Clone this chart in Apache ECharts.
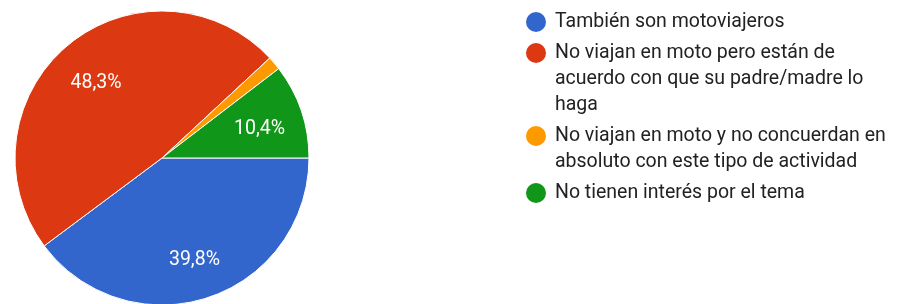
<!DOCTYPE html>
<html>
<head>
<meta charset="utf-8">
<script src="https://cdn.jsdelivr.net/npm/echarts@6/dist/echarts.min.js"></script>
<style>
html,body{margin:0;padding:0;background:#fff;}
#chart{width:898px;height:304px;}
</style>
</head>
<body>
<div id="chart"></div>
<script>
const categories = [
  'También son motoviajeros',
  'No viajan en moto pero están de acuerdo con que su padre/madre lo haga',
  'No viajan en moto y no concuerdan en absoluto con este tipo de actividad',
  'No tienen interés por el tema'
];
const values = [39.8, 48.3, 1.5, 10.4];
const colors = ['#3366cc', '#dc3912', '#ff9900', '#109618'];
const legendLines = [
  ['También son motoviajeros'],
  ['No viajan en moto pero están de', 'acuerdo con que su padre/madre lo', 'haga'],
  ['No viajan en moto y no concuerdan en', 'absoluto con este tipo de actividad'],
  ['No tienen interés por el tema']
];

const data = categories.map((c, i) => ({ name: c, value: values[i] }));

const rich = {
  gap: { width: 9, height: 20, lineHeight: 26 },
  ind: { width: 29, height: 20, lineHeight: 26 },
  t: { fontSize: 19.5, lineHeight: 26, color: '#222', fontFamily: 'Roboto' }
};
colors.forEach((c, i) => {
  rich['dot' + i] = { width: 20, height: 20, borderRadius: 10, backgroundColor: c, lineHeight: 26, verticalAlign: 'middle' };
});

const chart = echarts.init(document.getElementById('chart'), null, { renderer: 'canvas' });
chart.setOption({
  animation: false,
  color: colors,
  legend: {
    orient: 'vertical',
    left: 516,
    top: 7,
    itemGap: 11,
    icon: 'none',
    itemWidth: 0,
    itemHeight: 14,
    selectedMode: false,
    data: categories,
    formatter: function (name) {
      const i = categories.indexOf(name);
      const lines = legendLines[i];
      return lines.map((l, k) => (k === 0 ? '{dot' + i + '|}{gap|}' : '{ind|}') + '{t|' + l + '}').join('\n');
    },
    textStyle: { rich: rich, fontFamily: 'Roboto', fontSize: 19.5, color: '#222' }
  },
  series: [
    {
      type: 'pie',
      center: [162, 158],
      radius: 147,
      startAngle: 0,
      clockwise: true,
      avoidLabelOverlap: false,
      label: { show: false },
      labelLine: { show: false },
      itemStyle: { borderColor: '#ffffff', borderWidth: 1 },
      emphasis: { disabled: true },
      data: data
    },
    {
      type: 'pie',
      center: [162, 158],
      radius: [53, 147],
      startAngle: 0,
      clockwise: true,
      silent: true,
      avoidLabelOverlap: false,
      itemStyle: { color: 'rgba(0,0,0,0)', borderWidth: 0 },
      labelLine: { show: false },
      emphasis: { disabled: true },
      label: {
        show: true,
        position: 'inside',
        color: '#ffffff',
        fontSize: 19.5,
        fontFamily: 'Roboto',
        offset: [0, 4],
        formatter: function (p) {
          return p.value < 5 ? '' : p.value.toFixed(1).replace('.', ',') + '%';
        }
      },
      data: data
    }
  ]
});
</script>
</body>
</html>
